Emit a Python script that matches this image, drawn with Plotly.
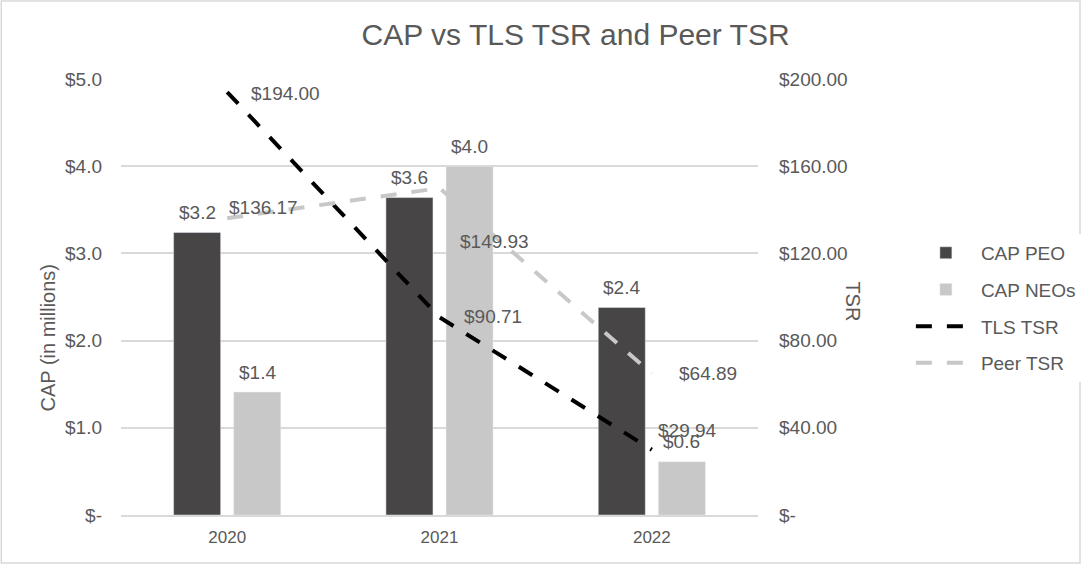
import plotly.graph_objects as go

years = ["2020", "2021", "2022"]
cap_peo = [3.24, 3.64, 2.38]
cap_neos = [1.41, 4.0, 0.61]
cap_peo_labels = ["$3.2", "$3.6", "$2.4"]
cap_neos_labels = ["$1.4", "$4.0", "$0.6"]
tls_tsr = [194.00, 90.71, 29.94]
peer_tsr = [136.17, 149.93, 64.89]
left_ticks = [0, 1, 2, 3, 4, 5]
left_ticktext = ["$-", "$1.0", "$2.0", "$3.0", "$4.0", "$5.0"]
right_ticks = [0, 40, 80, 120, 160, 200]
right_ticktext = ["$-", "$40.00", "$80.00", "$120.00", "$160.00", "$200.00"]

FONT = "Liberation Sans, Arial, sans-serif"
TXT = "#595959"
FS = 19

fig = go.Figure()
fig.add_trace(go.Bar(x=years, y=cap_peo, name="CAP PEO", marker_color="#474546",
                     legendgroup="a"))
fig.add_trace(go.Bar(x=years, y=cap_neos, name="CAP NEOs", marker_color="#c9c8c8",
                     legendgroup="b"))
fig.add_trace(go.Scatter(x=years, y=tls_tsr, name="TLS TSR", yaxis="y2", mode="lines",
                         legendgroup="c",
                         line=dict(color="#000000", width=4, dash="16px,15px")))
fig.add_trace(go.Scatter(x=years, y=peer_tsr, name="Peer TSR", yaxis="y2", mode="lines",
                         legendgroup="d",
                         line=dict(color="#c8c8c8", width=4, dash="16px,15px")))

annotations = []
# bar value labels
for series, labels, dx in ((cap_peo, cap_peo_labels, -30), (cap_neos, cap_neos_labels, 30)):
    for i, (yv, lab) in enumerate(zip(series, labels)):
        annotations.append(dict(x=i, y=yv, xref="x", yref="y", text=lab,
                                showarrow=False, xanchor="center", yanchor="middle",
                                xshift=dx, yshift=20,
                                font=dict(size=FS, color=TXT, family=FONT)))
# line value labels (offsets in pixels from each point)
tls_shift = [(22, -1), (22, 1), (4, 19)]
peer_shift = [(0, 11), (18, -53), (25, 0)]
for series, shifts in ((tls_tsr, tls_shift), (peer_tsr, peer_shift)):
    for i, (yv, (dx, dy)) in enumerate(zip(series, shifts)):
        annotations.append(dict(x=i, y=yv, xref="x", yref="y2", text=f"${yv:.2f}",
                                showarrow=False, xanchor="left", yanchor="middle",
                                xshift=dx, yshift=dy,
                                font=dict(size=FS, color=TXT, family=FONT)))
annotations.append(dict(x=-0.135, y=0.405, xref="paper", yref="paper",
                        text="CAP (in millions)", textangle=-90, showarrow=False,
                        font=dict(size=20, color=TXT, family=FONT)))
annotations.append(dict(x=1.1695, y=0.49, xref="paper", yref="paper",
                        text="TSR", textangle=90, showarrow=False,
                        font=dict(size=20, color=TXT, family=FONT)))

fig.update_layout(
    width=1084, height=576,
    margin=dict(l=121, r=326, t=79, b=61, autoexpand=False),
    paper_bgcolor="white", plot_bgcolor="white",
    font=dict(family=FONT, color=TXT, size=FS),
    title=dict(text="CAP vs TLS TSR and Peer TSR", x=0.531, xanchor="center",
               y=0.94, yanchor="middle", font=dict(size=30, color=TXT, family=FONT)),
    barmode="group", bargap=0.434, bargroupgap=0.217,
    xaxis=dict(type="category", range=[-0.5, 2.5], showgrid=False, automargin=False,
               showline=True, linecolor="#d9d9d9", linewidth=1.5,
               ticks="", tickfont=dict(size=17, color=TXT), ticklabelstandoff=6),
    yaxis=dict(range=[0, 5], tickvals=left_ticks, ticktext=left_ticktext, automargin=False,
               showgrid=True, gridcolor="#d9d9d9", gridwidth=1.5, zeroline=False,
               ticks="", tickfont=dict(size=FS, color=TXT), ticklabelstandoff=18),
    yaxis2=dict(range=[0, 200], tickvals=right_ticks, ticktext=right_ticktext,
                overlaying="y", side="right", showgrid=False, zeroline=False,
                automargin=False,
                ticks="", tickfont=dict(size=FS, color=TXT), ticklabelstandoff=20),
    legend=dict(x=1.24, y=0.475, xanchor="left", yanchor="middle",
                font=dict(size=FS, color=TXT), tracegroupgap=9, itemwidth=60),
    annotations=annotations,
    shapes=[dict(type="rect", xref="paper", yref="paper", x0=-0.188, x1=1.5055,
                 y0=-0.11, y1=1.179, line=dict(color="#d9d9d9", width=1.5))],
)

fig.write_html("out.html")
